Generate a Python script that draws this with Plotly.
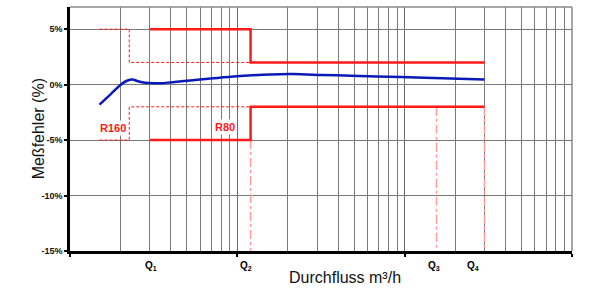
import math
import plotly.graph_objects as go

# --- data ---
flow_curve = [1.5, 1.74, 2.01, 2.19, 2.36, 2.55, 2.81, 3.46, 3.97, 5.45, 10.4, 15.8, 21.6, 31.4, 47.5, 94.6, 188, 300]
err_curve = [-1.8, -0.9, 0.0, 0.35, 0.47, 0.3, 0.16, 0.13, 0.2, 0.4, 0.77, 0.92, 0.95, 0.88, 0.8, 0.68, 0.56, 0.47]

r80_x = [3, 12, 12, 300]
r80_upper = [5, 5, 2, 2]
r80_lower = [-5, -5, -2, -2]

r160_x = [1.5, 2.26, 2.26, 12]
r160_upper = [5, 5, 2, 2]
r160_lower = [-5, -5, -2, -2]

q_marker_x = [12, 155, 300]
q_marker_top = [-5, -2, -2]
y_bottom = -15

q_labels = ["Q<sub>1</sub>", "Q<sub>2</sub>", "Q<sub>3</sub>", "Q<sub>4</sub>"]
q_label_x = [3.05, 11.2, 149, 255]

y_ticks = [5, 0, -5, -10, -15]
y_tick_text = ["5%", "0%", "-5%", "-10%", "-15%"]
x_major = [1, 10, 100, 1000]
x_minor = [m * d for d in (1, 10, 100) for m in range(2, 10)]

FONT = "Liberation Sans, Arial, sans-serif"
RED = "#ff1a1a"

fig = go.Figure()

# pink dash-dot Q markers
for qx, qt in zip(q_marker_x, q_marker_top):
    fig.add_trace(go.Scatter(x=[qx, qx], y=[qt, y_bottom], mode="lines",
                             line=dict(color="#ff9c9c", width=1.5, dash="dashdot"),
                             hoverinfo="skip", showlegend=False))

# R160 dashed limits
for yy in (r160_upper, r160_lower):
    fig.add_trace(go.Scatter(x=r160_x, y=yy, mode="lines",
                             line=dict(color=RED, width=1, dash="3px,2px"),
                             showlegend=False))

# R80 solid limits
for yy in (r80_upper, r80_lower):
    fig.add_trace(go.Scatter(x=r80_x, y=yy, mode="lines",
                             line=dict(color=RED, width=2.5),
                             showlegend=False))

# measured error curve
fig.add_trace(go.Scatter(x=flow_curve, y=err_curve, mode="lines",
                         line=dict(color="#0a1ab8", width=2.5, shape="spline", smoothing=0.8),
                         showlegend=False))

# labels R160 / R80
fig.add_annotation(x=0.2575, y=-3.9, text="<b>R160</b>", showarrow=False,
                   font=dict(family=FONT, size=11, color=RED), bgcolor="white")
fig.add_annotation(x=0.924, y=-3.8, text="<b>R80</b>", showarrow=False,
                   font=dict(family=FONT, size=11, color=RED), bgcolor="white")

for lbl, lx in zip(q_labels, q_label_x):
    fig.add_annotation(x=math.log10(lx), y=-0.062, yref="paper", text="<b>" + lbl + "</b>",
                       showarrow=False, yanchor="middle",
                       font=dict(family=FONT, size=10, color="black"))

fig.add_annotation(x=0.547, y=-0.107, xref="paper", yref="paper",
                   text="Durchfluss m³/h", showarrow=False, yanchor="middle",
                   font=dict(family=FONT, size=16, color="#111"))
fig.add_annotation(x=-0.063, y=0.5, xref="paper", yref="paper",
                   text="Meßfehler (%)", showarrow=False, textangle=-90,
                   xanchor="center", yanchor="middle",
                   font=dict(family=FONT, size=16, color="#111"))

# top/right gray border
fig.add_shape(type="line", xref="paper", yref="paper", x0=0, x1=1, y0=1, y1=1,
              line=dict(color="#8a8a8a", width=1.5))
fig.add_shape(type="line", xref="paper", yref="paper", x0=1, x1=1, y0=0, y1=1,
              line=dict(color="#8a8a8a", width=1.5))

fig.update_xaxes(type="log", range=[0, 3], tickvals=x_major, showticklabels=False,
                 ticks="outside", ticklen=3, tickcolor="black", tickwidth=1.5,
                 showgrid=True, gridcolor="#6a6a6a", gridwidth=1,
                 showline=True, linecolor="black", linewidth=2.5,
                 minor=dict(tickvals=x_minor, showgrid=True, gridcolor="#7a7a7a",
                            gridwidth=1, ticks=""),
                 zeroline=False)
fig.update_yaxes(range=[-15, 7], tickvals=y_ticks, ticktext=y_tick_text,
                 ticks="outside", ticklen=3, tickcolor="black", tickwidth=1.5,
                 tickfont=dict(family=FONT, size=9, color="#111", weight="bold"),
                 showgrid=True, gridcolor="#7a7a7a", gridwidth=1,
                 showline=True, linecolor="black", linewidth=2.5,
                 zeroline=False)

fig.update_layout(width=600, height=300, margin=dict(l=70, r=28, t=7, b=49),
                  plot_bgcolor="white", paper_bgcolor="white",
                  font=dict(family=FONT))

fig.write_html("out.html")
